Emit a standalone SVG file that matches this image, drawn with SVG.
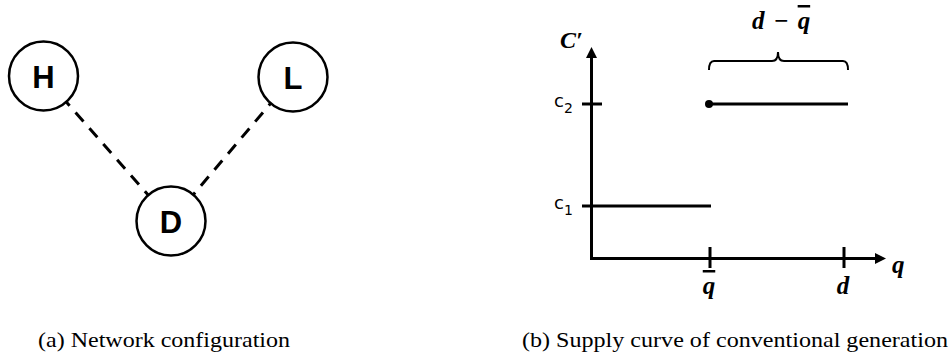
<svg xmlns="http://www.w3.org/2000/svg" width="951" height="352" viewBox="0 0 951 352">
<style>
.node{fill:#fff;stroke:#000;stroke-width:2.5}
.nlab{font-family:"Liberation Sans",Arial,sans-serif;font-weight:bold;font-size:31px;text-anchor:middle;fill:#000}
.dash{stroke:#000;stroke-width:3;stroke-dasharray:12 9;fill:none}
.ax{stroke:#000;stroke-width:3;fill:none}
.ln{stroke:#000;stroke-width:3;fill:none}
.math{font-family:"Liberation Serif","Times New Roman",serif;font-weight:bold;font-style:italic;fill:#000}
.cl{font-family:"DejaVu Sans",sans-serif;font-size:18px;fill:#000}
.cap{font-family:"Liberation Serif","Times New Roman",serif;font-size:21px;fill:#000}
</style>
<defs>
<marker id="arr" viewBox="0 0 10 10" refX="0" refY="5" markerUnits="userSpaceOnUse" markerWidth="11" markerHeight="11" orient="auto">
<path d="M0,0 L10,5 L0,10 z" fill="#000"/>
</marker>
</defs>
<g id="connectors">
<line class="dash" x1="66.3" y1="101.9" x2="148.2" y2="195.1" stroke-dashoffset="7"/>
<line class="dash" x1="270.7" y1="103.3" x2="193.3" y2="194.7" stroke-dashoffset="9"/>
</g>
<g id="node-H">
<circle class="node" cx="43.5" cy="76" r="34.5"/>
<text class="nlab" x="43.5" y="87.5">H</text>
</g>
<g id="node-L">
<circle class="node" cx="293" cy="77" r="34.5"/>
<text class="nlab" x="293" y="88.5">L</text>
</g>
<g id="node-D">
<circle class="node" cx="171" cy="221" r="34.5"/>
<text class="nlab" x="171" y="232.5">D</text>
</g>
<g id="supply-curve">
<line class="ax" x1="591.5" y1="259.5" x2="591.5" y2="58" marker-end="url(#arr)"/>
<line class="ax" x1="590" y1="258.5" x2="875" y2="258.5" marker-end="url(#arr)"/>
<line class="ln" x1="582" y1="104" x2="602" y2="104"/>
<line class="ln" x1="582" y1="206" x2="711" y2="206"/>
<line class="ln" x1="710" y1="247" x2="710" y2="268"/>
<line class="ln" x1="844" y1="247" x2="844" y2="268"/>
<line class="ln" x1="709" y1="104" x2="848" y2="104"/>
<circle cx="709" cy="104" r="4" fill="#000"/>
<path d="M709,70 Q709,61 714,61 L772,61 Q778,61 778,52 Q778,61 784,61 L843,61 Q848,61 848,70" stroke="#000" stroke-width="2" fill="none"/>
<text class="math" x="560" y="48" font-size="24">C′</text>
<text class="cl" x="554" y="107">c<tspan font-size="14" dy="6">2</tspan></text>
<text class="cl" x="554" y="209">c<tspan font-size="14" dy="6">1</tspan></text>
<text class="math" x="752" y="29" font-size="25">d<tspan dx="9">−</tspan><tspan dx="9" text-decoration="overline">q</tspan></text>
<text class="math" x="892" y="273" font-size="25">q</text>
<text class="math" x="709" y="294" font-size="25" text-anchor="middle" text-decoration="overline">q</text>
<text class="math" x="843" y="294" font-size="25" text-anchor="middle">d</text>
</g>
<g id="captions">
<text class="cap" x="38" y="347" textLength="252" lengthAdjust="spacingAndGlyphs">(a) Network configuration</text>
<text class="cap" x="522" y="347" textLength="426" lengthAdjust="spacingAndGlyphs">(b) Supply curve of conventional generation</text>
</g>
</svg>
